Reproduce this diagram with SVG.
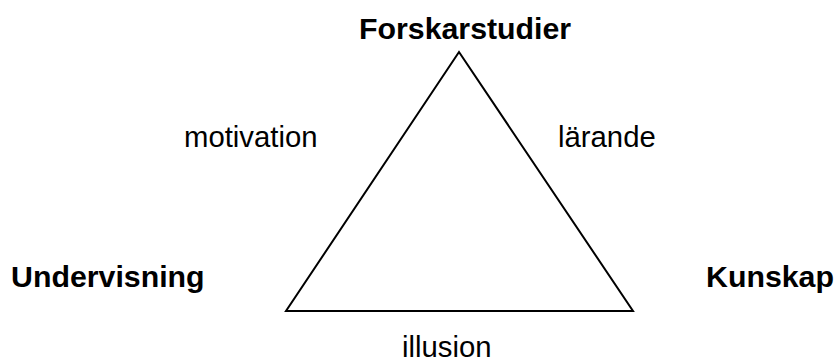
<svg xmlns="http://www.w3.org/2000/svg" width="835" height="359" viewBox="0 0 835 359">
<style>
.t{font-family:"Liberation Sans",Arial,sans-serif;fill:#000}
.b{font-weight:bold;font-size:30.3px}
.r{font-size:29.3px}
</style>
<rect width="835" height="359" fill="#fff"/>
<g id="connectors">
<polygon points="459,52 286,311 633,311" fill="none" stroke="#000" stroke-width="2" stroke-linejoin="miter"/>
</g>
<g id="forskarstudier"><text class="t b" x="359" y="39">Forskarstudier</text></g>
<g id="undervisning"><text class="t b" x="11" y="287">Undervisning</text></g>
<g id="kunskap"><text class="t b" x="706" y="287">Kunskap</text></g>
<g id="motivation"><text class="t r" x="184" y="147">motivation</text></g>
<g id="larande"><text class="t r" x="558" y="147">lärande</text></g>
<g id="illusion"><text class="t r" x="402" y="356.5">illusion</text></g>
</svg>
